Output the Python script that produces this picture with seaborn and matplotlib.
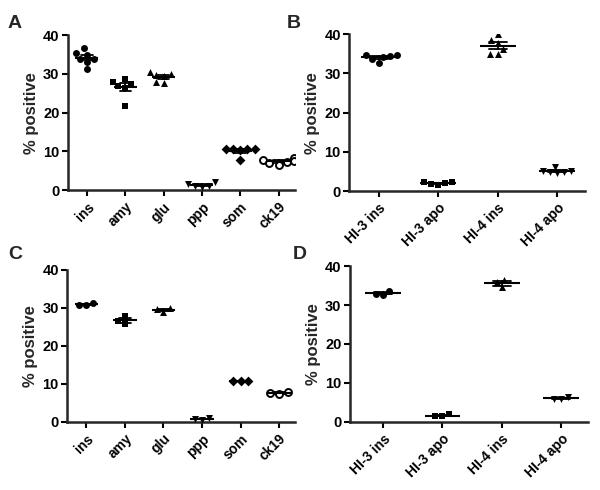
import numpy as np
import pandas as pd
import matplotlib
matplotlib.use('Agg')
import matplotlib.pyplot as plt
import seaborn as sns

sns.set_style('ticks')
plt.rcParams['font.family'] = ['Liberation Sans', 'DejaVu Sans']
plt.rcParams['font.weight'] = 'bold'

# panel A / C categories
markers_cats = ['ins', 'amy', 'glu', 'ppp', 'som', 'ck19']
a_ins = [35.3, 35.0, 36.6, 33.8, 33.8, 33.2, 31.4]
a_amy = [28.8, 28.0, 27.5, 26.8, 26.5, 21.8]
a_glu = [30.5, 30.0, 29.8, 29.6, 28.0, 27.8]
a_ppp = [1.5, 1.0, 0.8, 1.0, 2.0]
a_som = [10.5, 10.6, 10.4, 10.5, 10.6, 7.9]
a_ck19 = [8.4, 7.8, 7.2, 7.0, 6.5, 7.5]

c_ins = [31.3, 30.7, 30.9]
c_amy = [28.0, 25.8, 26.5]
c_glu = [29.9, 29.0, 29.6]
c_ppp = [0.8, 0.6, 0.9]
c_som = [10.8, 10.8, 10.8]
c_ck19 = [7.8, 7.3, 7.7]

# panel B / D categories
hi_cats = ['HI-3 ins', 'HI-3 apo', 'HI-4 ins', 'HI-4 apo']
b_hi3_ins = [34.8, 34.6, 33.6, 34.5, 32.8, 34.3]
b_hi3_apo = [2.2, 1.6, 2.4, 1.8, 2.0]
b_hi4_ins = [40.0, 38.5, 37.8, 36.2, 35.0, 35.0]
b_hi4_apo = [6.2, 5.2, 4.8, 4.5, 5.0, 4.9]

d_hi3_ins = [33.6, 32.7, 32.8]
d_hi3_apo = [1.9, 1.4, 1.6]
d_hi4_ins = [36.3, 35.8, 34.5]
d_hi4_apo = [6.3, 5.9, 6.0]

six_styles = [('o', 'black'), ('s', 'black'), ('^', 'black'),
              ('v', 'black'), ('D', 'black'), ('o', 'white')]
four_styles = [('o', 'black'), ('s', 'black'), ('^', 'black'), ('v', 'black')]


def to_df(cats, groups):
    rows = []
    for c, vals in zip(cats, groups):
        for v in vals:
            rows.append({'cat': c, 'val': v})
    return pd.DataFrame(rows)


def draw_panel(ax, cats, groups, styles, xlim, msize):
    df = to_df(cats, groups)
    for c, (m, fc) in zip(cats, styles):
        sub = df[df['cat'] == c]
        sns.swarmplot(data=sub, x='cat', y='val', order=cats, marker=m,
                      color=fc, edgecolor='black', linewidth=1.4 if fc == 'white' else 0,
                      size=msize, ax=ax, zorder=3)
    sns.pointplot(data=df, x='cat', y='val', order=cats, errorbar='se',
                  capsize=0.3, linestyle='none', marker='', color='black',
                  err_kws={'linewidth': 1.3}, ax=ax)
    means = df.groupby('cat', sort=False)['val'].mean().reindex(cats)
    ax.hlines(means.values, np.arange(len(cats)) - 0.3, np.arange(len(cats)) + 0.3,
              color='black', linewidth=1.5, zorder=4)
    ax.set_ylim(0, 40)
    ax.set_yticks([0, 10, 20, 30, 40])
    ax.set_xlim(*xlim)
    ax.set_xlabel('')
    ax.set_ylabel('% positive', fontsize=12, fontweight='bold', labelpad=3)
    ax.set_xticks(range(len(cats)))
    ax.set_xticklabels(cats, rotation=45, ha='right', rotation_mode='anchor',
                       fontsize=10, fontweight='bold')
    for lab in ax.get_yticklabels():
        lab.set_fontweight('bold')
        lab.set_fontsize(10.5)
    sns.despine(ax=ax)
    for s in ['left', 'bottom']:
        ax.spines[s].set_linewidth(1.8)
    ax.tick_params(axis='both', direction='out', length=4, width=1.5, colors='black')
    ax.tick_params(axis='x', pad=3)
    ax.tick_params(axis='y', pad=2)


fig = plt.figure(figsize=(6, 4.9), dpi=100)
axA = fig.add_axes([0.113, 0.612, 0.378, 0.316])
axB = fig.add_axes([0.582, 0.610, 0.393, 0.320])
axC = fig.add_axes([0.112, 0.139, 0.380, 0.310])
axD = fig.add_axes([0.583, 0.139, 0.397, 0.318])

draw_panel(axA, markers_cats, [a_ins, a_amy, a_glu, a_ppp, a_som, a_ck19],
           six_styles, (-0.5, 5.42), 5)
draw_panel(axB, hi_cats, [b_hi3_ins, b_hi3_apo, b_hi4_ins, b_hi4_apo],
           four_styles, (-0.5, 3.47), 5)
draw_panel(axC, markers_cats, [c_ins, c_amy, c_glu, c_ppp, c_som, c_ck19],
           six_styles, (-0.5, 5.42), 5)
draw_panel(axD, hi_cats, [d_hi3_ins, d_hi3_apo, d_hi4_ins, d_hi4_apo],
           four_styles, (-0.56, 3.45), 5)

for lab, (x, y) in zip('ABCD', [(0.025, 0.953), (0.49, 0.953), (0.025, 0.48), (0.5, 0.48)]):
    fig.text(x, y, lab, fontsize=14, fontweight='bold', ha='center', va='center')

fig.savefig('out.png', dpi=100, facecolor='white')
